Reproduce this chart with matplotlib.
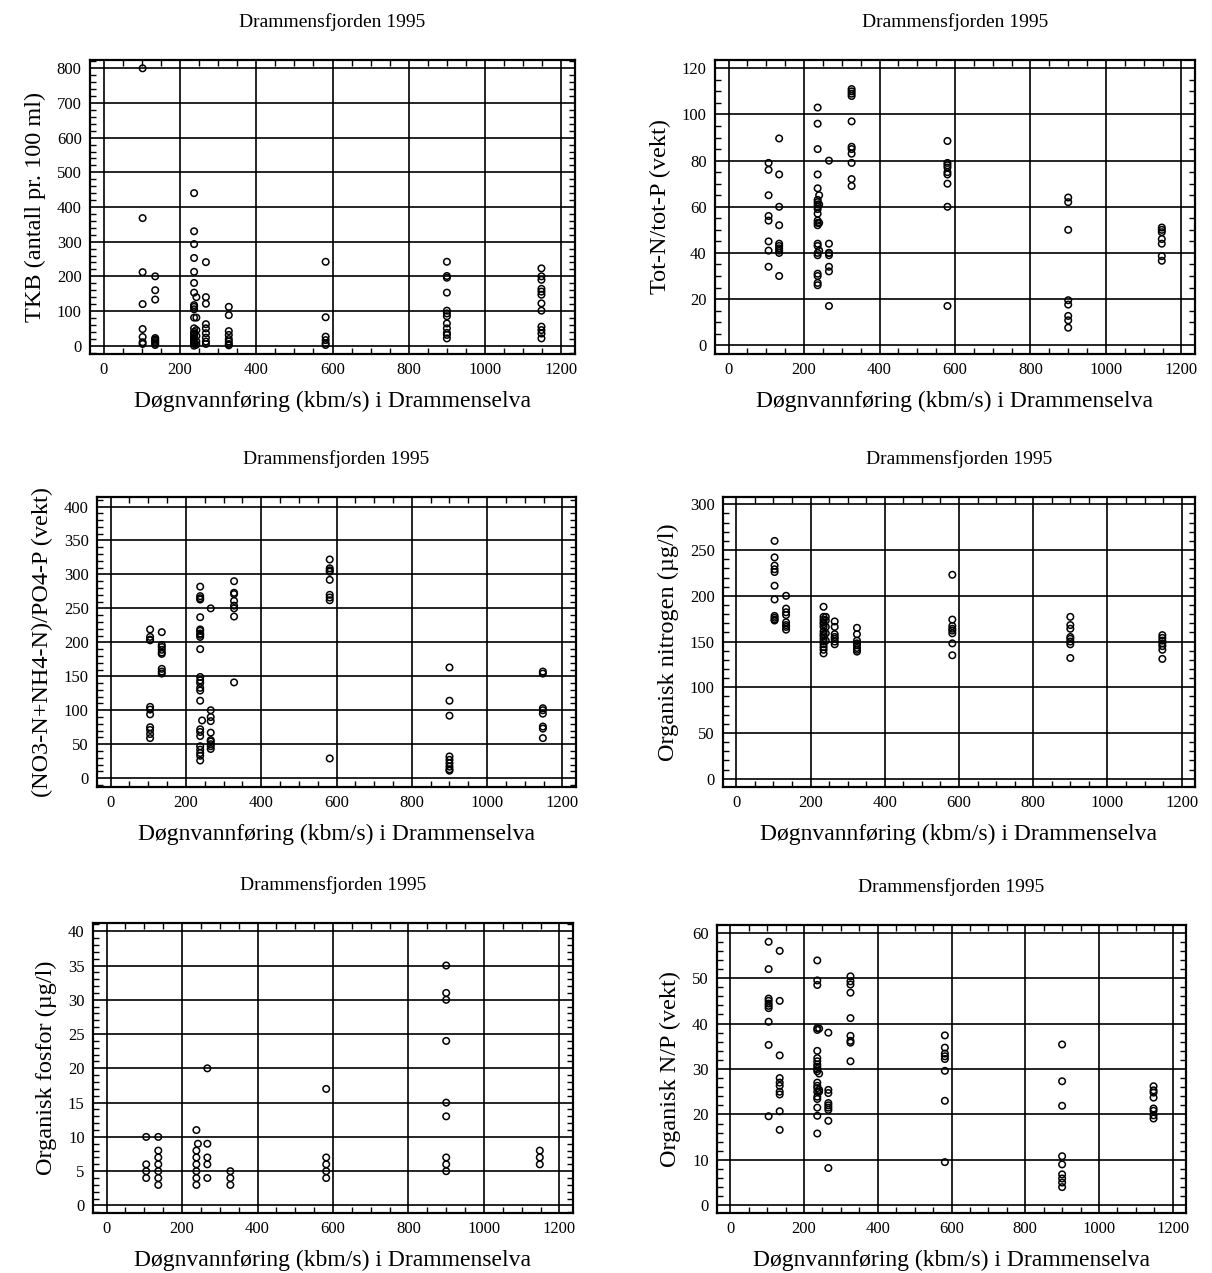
import matplotlib
matplotlib.use("Agg")
import matplotlib.pyplot as plt
from matplotlib.ticker import MultipleLocator

plt.rcParams['font.family'] = ['Liberation Serif', 'DejaVu Serif']

tittel = "Drammensfjorden 1995"
xlabel = "Døgnvannføring (kbm/s) i Drammenselva"

# TKB (antall pr. 100 ml)
tkb_q = [102, 135, 237, 243, 268, 328, 582, 900, 1148]
tkb_v = [
    [800, 368, 212, 120, 48, 25, 10, 5],
    [200, 160, 133, 22, 18, 14, 10, 6, 2],
    [440, 330, 293, 253, 213, 181, 153, 117, 112, 105, 81, 50, 40, 35, 30, 25, 20, 15, 10, 5, 0],
    [140, 81, 45, 28, 12, 3],
    [241, 140, 121, 62, 50, 36, 23, 12, 5],
    [112, 88, 42, 31, 19, 12, 5, 1],
    [242, 82, 26, 16, 7, 2],
    [242, 201, 196, 153, 101, 93, 85, 64, 50, 37, 31, 21],
    [223, 200, 190, 164, 156, 147, 122, 101, 55, 45, 35, 21],
]

# Tot-N/tot-P
ntp_q = [106, 134, 236, 240, 266, 326, 580, 900, 1148]
ntp_v = [
    [79, 76, 65, 56, 54, 45, 41, 34],
    [89.6, 74, 60, 52, 44, 43, 42, 41, 40, 30],
    [103, 96, 85, 74, 68, 63, 62, 61, 60, 59, 57, 54, 53, 52, 44, 43, 40, 39, 31, 30, 27, 26],
    [65, 61, 53, 41],
    [80, 44, 40, 40, 39, 34, 32, 17],
    [111, 110, 109, 108, 97, 86, 85, 83, 79, 72, 69],
    [88.5, 79, 78, 77, 75, 74, 70, 60, 17],
    [64, 62, 50, 19.5, 17.6, 12.7, 10.8, 7.6],
    [51, 50, 49, 46, 44, 38.6, 36.6],
]

# (NO3-N+NH4-N)/PO4-P
uorg_q = [105, 136, 238, 243, 266, 328, 582, 900, 1148]
uorg_v = [
    [219, 208, 204, 203, 105, 101, 94, 75, 71, 65, 59],
    [215, 196, 193, 189, 185, 183, 161, 157, 154],
    [282, 268, 265, 263, 237, 219, 217, 213, 211, 208, 190, 149, 144, 140, 133, 129, 114,
     72, 68, 62, 47, 42, 37, 33, 26],
    [85],
    [250, 100, 90, 84, 67, 56, 54, 50, 47, 43],
    [290, 273, 271, 261, 254, 250, 238, 141],
    [322, 309, 306, 304, 292, 270, 266, 262, 29],
    [163, 114, 92, 32, 27, 22, 17, 13, 11],
    [157, 154, 103, 100, 95, 76, 73, 59],
]

# Organisk nitrogen
orgn_q = [103, 134, 235, 241, 265, 325, 582, 900, 1148]
orgn_v = [
    [260, 242, 233, 229, 226, 211, 196, 178, 176, 174, 173],
    [200, 186, 182, 179, 171, 168, 166, 163],
    [188, 177, 174, 171, 169, 166, 161, 158, 156, 153, 150, 147, 144, 141, 137],
    [177, 173, 166, 159, 151],
    [172, 166, 158, 155, 153, 150, 147],
    [165, 158, 151, 148, 146, 143, 141, 139],
    [223, 174, 167, 164, 162, 159, 148, 135],
    [177, 168, 164, 155, 153, 150, 147, 132],
    [157, 154, 151, 148, 145, 141, 131],
]

# Organisk fosfor
orgp_q = [105, 137, 238, 242, 267, 328, 582, 900, 1148]
orgp_v = [
    [10, 6, 5, 4],
    [10, 8, 7, 6, 5, 4, 3],
    [11, 8, 7, 6, 5, 4, 3],
    [9],
    [20, 9, 7, 6, 4],
    [5, 4, 3],
    [17, 7, 6, 5, 4],
    [35, 31, 30, 24, 15, 13, 7, 6, 5],
    [8, 7, 6],
]

# Organisk N/P
orgnp_q = [104, 134, 236, 241, 266, 326, 582, 900, 1148]
orgnp_v = [
    [58, 52, 45.5, 45, 44.4, 43.9, 43.4, 40.4, 35.3, 19.6],
    [56, 45, 33, 28, 27, 26.3, 25, 24.4, 20.7, 16.6],
    [53.9, 49.5, 48.5, 39, 38.6, 34, 32.4, 31.7, 31, 30.5, 30, 29.5, 27, 26.3, 25.8, 25,
     23.9, 23.4, 21.5, 19.7, 15.8],
    [38.9, 29, 25.4, 25],
    [38, 25.4, 24.7, 22.5, 22, 21.5, 21, 18.6, 8.2],
    [50.4, 49.3, 48.6, 46.8, 41.2, 37.3, 36.2, 35.8, 31.7],
    [37.4, 34.7, 33.4, 32.8, 32.2, 29.6, 23, 9.5],
    [35.4, 27.3, 21.9, 10.8, 9, 6.8, 5.9, 5, 4],
    [26.2, 25.3, 24.8, 23.7, 21.3, 20.8, 19.8, 19.1],
]

W, H = 1212, 1273
fig = plt.figure(figsize=(W / 100, H / 100), dpi=100)


def panel(box, q, vals, ylabel, ylim, ymaj, ymin):
    l, t, r, b = box
    ax = fig.add_axes([l / W, 1 - b / H, (r - l) / W, (b - t) / H])
    xs, ys = [], []
    for qi, v in zip(q, vals):
        xs += [qi] * len(v)
        ys += v
    ax.scatter(xs, ys, s=22, facecolors='none', edgecolors='black', linewidths=1.1, zorder=3)
    ax.set_xlim(-36, 1236)
    ax.set_ylim(*ylim)
    ax.xaxis.set_major_locator(MultipleLocator(200))
    ax.xaxis.set_minor_locator(MultipleLocator(50))
    ax.yaxis.set_major_locator(MultipleLocator(ymaj))
    ax.yaxis.set_minor_locator(MultipleLocator(ymin))
    ax.grid(True, which='major', color='black', linewidth=1.2)
    ax.tick_params(which='both', direction='in', top=True, right=True, labelsize=12,
                   colors='black', width=1)
    ax.tick_params(which='major', length=0, pad=6)
    ax.tick_params(which='minor', length=4)
    for sp in ax.spines.values():
        sp.set_linewidth(1.6)
    ax.set_title(tittel, fontsize=14, pad=24)
    ax.set_xlabel(xlabel, fontsize=17, labelpad=9)
    ax.set_ylabel(ylabel, fontsize=17.5, labelpad=8)
    return ax


panel((90, 60, 575, 354), tkb_q, tkb_v, "TKB (antall pr. 100 ml)", (-24, 824), 100, 20)
panel((715, 60, 1195, 354), ntp_q, ntp_v, "Tot-N/tot-P (vekt)", (-3.8, 123.6), 20, 5)
panel((97, 497, 576, 787), uorg_q, uorg_v, "(NO3-N+NH4-N)/PO4-P (vekt)", (-13, 414), 50, 10)
panel((723, 497, 1195, 787), orgn_q, orgn_v, "Organisk nitrogen (µg/l)", (-9, 308), 50, 10)
panel((93, 923, 573, 1213), orgp_q, orgp_v, "Organisk fosfor (µg/l)", (-1.1, 41.2), 5, 1)
panel((717, 925, 1186, 1213), orgnp_q, orgnp_v, "Organisk N/P (vekt)", (-1.7, 61.7), 10, 2)

fig.savefig("out.png", dpi=100)
